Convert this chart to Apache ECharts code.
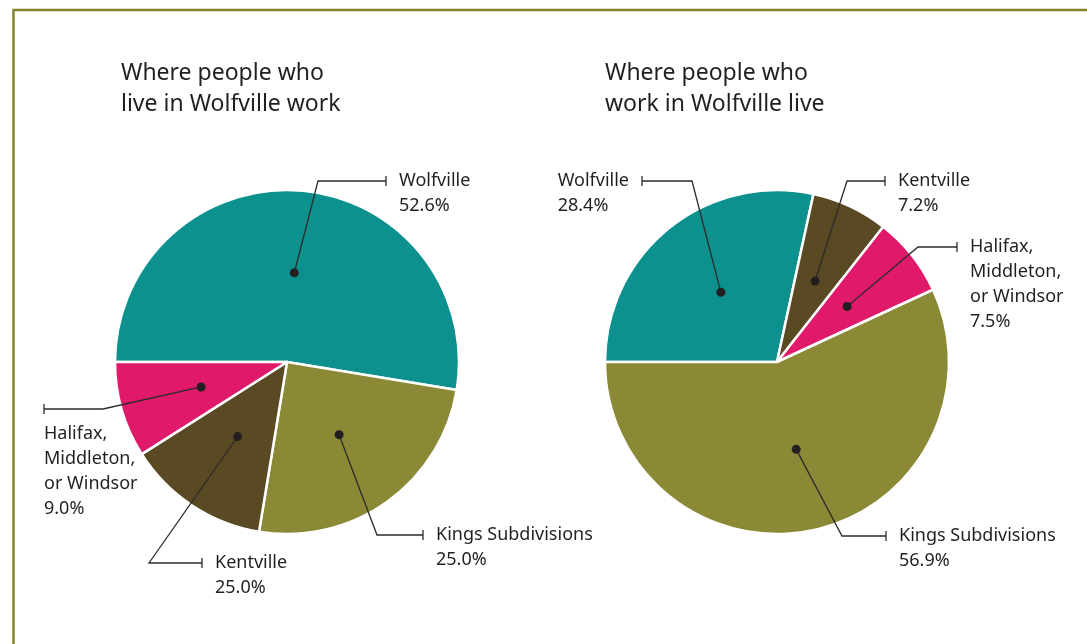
<!DOCTYPE html>
<html>
<head>
<meta charset="utf-8">
<script src="https://cdn.jsdelivr.net/npm/echarts@6/dist/echarts.min.js"></script>
<style>
html, body { margin: 0; padding: 0; background: #fff; }
#chart { width: 1087px; height: 644px; }
</style>
</head>
<body>
<div id="chart"></div>
<script>
// where people who live in Wolfville work (clockwise from 9 o'clock)
const leftNames = ['Wolfville', 'Kings Subdivisions', 'Kentville', 'Halifax,\nMiddleton,\nor Windsor']
const leftValues = [52.6, 25.0, 13.4, 9.0]
const leftPctText = ['52.6%', '25.0%', '25.0%', '9.0%']

// where people who work in Wolfville live
const rightNames = ['Wolfville', 'Kentville', 'Halifax,\nMiddleton,\nor Windsor', 'Kings Subdivisions']
const rightValues = [28.4, 7.2, 7.5, 56.9]
const rightPctText = ['28.4%', '7.2%', '7.5%', '56.9%']

const TEAL = '#0d918e'
const OLIVE = '#8b8935'
const BROWN = '#5a4a23'
const PINK = '#e0196a'
const TEXT = '#231f20'
const FONT = 'Noto Sans'

const leftColors = [TEAL, OLIVE, BROWN, PINK]
const rightColors = [TEAL, BROWN, PINK, OLIVE]

// pie geometry (px)
const centers = [[287, 362], [777, 362]]
const R = 172

// leader lines: elbow point, x of the end tick, side of the text
const leaders = [
  [
    { elbow: [318, 181], tick: 386, text: 'right' },
    { elbow: [377, 535], tick: 423, text: 'right' },
    { elbow: [149, 563], tick: 202, text: 'right' },
    { elbow: [103, 409], tick: 44, text: 'below' }
  ],
  [
    { elbow: [692, 181], tick: 642, text: 'left' },
    { elbow: [847, 181], tick: 885, text: 'right' },
    { elbow: [918, 247], tick: 957, text: 'right' },
    { elbow: [842, 536], tick: 886, text: 'right' }
  ]
]

const allValues = [leftValues, rightValues]

// point inside the slice (about half radius, middle angle), same start angle as the pie
const dotPoint = (si, di) => {
  const vals = allValues[si]
  const total = vals.reduce((a, b) => a + b, 0)
  let before = 0
  for (let i = 0; i < di; i++) before += vals[i]
  const mid = (before + vals[di] / 2) / total * Math.PI * 2
  const ang = Math.PI - mid
  const r = R * 0.52
  return [centers[si][0] + r * Math.cos(ang), centers[si][1] - r * Math.sin(ang)]
}

const leaderLayout = (si, p) => {
  const L = leaders[si][p.dataIndex]
  const d = dotPoint(si, p.dataIndex)
  const ty = L.elbow[1]
  let x, y
  if (L.text === 'right') {
    x = L.tick + 13
    y = ty - 12.5
  } else if (L.text === 'left') {
    x = L.tick - 13 - p.labelRect.width
    y = ty - 12.5
  } else {
    x = L.tick
    y = ty + 12.5
  }
  return {
    x: x,
    y: y,
    align: 'left',
    verticalAlign: 'top',
    labelLinePoints: [d, L.elbow, [L.tick, ty], [L.tick, ty - 5], [L.tick, ty + 5]]
  }
}

const dotLayout = (si, p) => {
  const d = dotPoint(si, p.dataIndex)
  return { x: d[0], y: d[1], align: 'center', verticalAlign: 'middle' }
}

const basePie = (si) => ({
  type: 'pie',
  center: centers[si],
  radius: R,
  startAngle: 180,
  clockwise: true,
  avoidLabelOverlap: false,
  animation: false,
  silent: true
})

// coloured slices
const slicePie = (si, names, values, colors) => Object.assign(basePie(si), {
  z: 2,
  data: names.map((n, i) => ({ name: n, value: values[i], itemStyle: { color: colors[i] } })),
  itemStyle: { borderColor: '#fff', borderWidth: 2.5 },
  label: { show: false },
  labelLine: { show: false }
})

// transparent copy carrying the texts and leader lines, above the slices
const labelPie = (si, names, values, pct) => Object.assign(basePie(si), {
  z: 5,
  data: names.map((n, i) => ({ name: n, value: values[i] })),
  itemStyle: { color: 'rgba(0,0,0,0)', borderWidth: 0 },
  label: {
    show: true,
    position: 'outside',
    formatter: p => p.name + '\n' + pct[p.dataIndex],
    fontFamily: FONT,
    fontSize: 18,
    lineHeight: 25,
    color: TEXT
  },
  labelLine: { show: true, smooth: false, lineStyle: { color: '#2b2b2b', width: 1.3 } },
  labelLayout: p => leaderLayout(si, p)
})

const dotPie = (si, values) => Object.assign(basePie(si), {
  z: 6,
  data: values.map(v => ({ value: v })),
  itemStyle: { color: 'rgba(0,0,0,0)', borderWidth: 0 },
  label: {
    show: true,
    position: 'inside',
    formatter: '{d|}',
    rich: { d: { width: 9, height: 9, borderRadius: 5, backgroundColor: TEXT } }
  },
  labelLine: { show: false },
  labelLayout: p => dotLayout(si, p)
})

const titleStyle = { fontFamily: FONT, fontSize: 23, lineHeight: 31, fontWeight: 'normal', color: TEXT }

const chart = echarts.init(document.getElementById('chart'))
chart.setOption({
  backgroundColor: '#fff',
  title: [
    { text: 'Where people who\nlive in Wolfville work', left: 121, top: 58, padding: 0, textStyle: titleStyle },
    { text: 'Where people who\nwork in Wolfville live', left: 605, top: 58, padding: 0, textStyle: titleStyle }
  ],
  graphic: [
    {
      type: 'rect',
      shape: { x: 13.5, y: 10, width: 1200, height: 800 },
      style: { fill: 'none', stroke: '#85812f', lineWidth: 2.5 },
      silent: true
    }
  ],
  series: [
    slicePie(0, leftNames, leftValues, leftColors),
    slicePie(1, rightNames, rightValues, rightColors),
    labelPie(0, leftNames, leftValues, leftPctText),
    labelPie(1, rightNames, rightValues, rightPctText),
    dotPie(0, leftValues),
    dotPie(1, rightValues)
  ]
})
</script>
</body>
</html>
